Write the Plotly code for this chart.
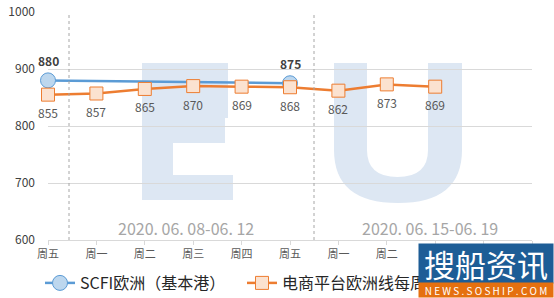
import plotly.graph_objects as go

# ---------------- data ----------------
days = ["周五", "周一", "周二", "周三", "周四", "周五", "周一", "周二", "周三", "周四", "周五"]
scfi_eu = [880, None, None, None, None, 875, None, None, None, None, None]
ecom_eu = [855, 857, 865, 870, 869, 868, 862, 873, 869, None, None]
scfi_name = "SCFI欧洲（基本港）"
ecom_name = "电商平台欧洲线每周运价"
week_labels = ["2020. 06. 08-06. 12", "2020. 06. 15-06. 19"]

# ---------------- layout geometry (pixels) ----------------
W, H = 554, 298
L, R, T, B = 48, 532, 12, 240
YMIN, YMAX = 600, 1000
NX = len(days) - 1
FONT = "Noto Sans CJK SC"


def px2x(px):
    return (px - L) / (R - L) * NX


def py2y(py):
    return YMIN + (B - py) / (B - T) * (YMAX - YMIN)


def ppx(px):
    return (px - L) / (R - L)


def ppy(py):
    return (B - py) / (B - T)


xs = list(range(len(days)))

fig = go.Figure()

fig.add_trace(go.Scatter(
    x=xs, y=scfi_eu, name=scfi_name, mode="lines+markers",
    connectgaps=True,
    line=dict(color="#5b9bd5", width=2.5),
    marker=dict(symbol="circle", size=15, color="#bdd7ee",
                line=dict(color="#5b9bd5", width=1)),
    cliponaxis=False,
))

fig.add_trace(go.Scatter(
    x=xs, y=ecom_eu, name=ecom_name, mode="lines+markers",
    line=dict(color="#ed7d31", width=2.5),
    marker=dict(symbol="square", size=13, color="#fbe2d0",
                line=dict(color="#ed7d31", width=1)),
    cliponaxis=False,
))

annotations = []
# data labels
for x, v in zip(xs, scfi_eu):
    if v is not None:
        annotations.append(dict(xref="x", yref="y", x=x, y=v, text=f"<b>{v}</b>",
                                showarrow=False, yshift=20,
                                font=dict(family=FONT, size=12, color="#404040")))
for x, v in zip(xs, ecom_eu):
    if v is not None:
        annotations.append(dict(xref="x", yref="y", x=x, y=v, text=str(v),
                                showarrow=False, yshift=-18,
                                font=dict(family=FONT, size=12, color="#595959")))

WM = "#dde7f3"
shapes = []
# watermark "E"
for (x0, y0, x1, y1) in [(142, 63, 173, 200), (173, 63, 228, 118),
                         (173, 118, 225, 143), (173, 175, 233, 200)]:
    shapes.append(dict(type="rect", xref="x", yref="y", layer="below",
                       x0=px2x(x0), x1=px2x(x1), y0=py2y(y0), y1=py2y(y1),
                       fillcolor=WM, line=dict(width=0)))


# watermark "U"
def P(px, py):
    return f"{px2x(px):.4f},{py2y(py):.3f}"


u_path = ("M " + P(334, 63) + " L " + P(367, 63) + " L " + P(367, 150) +
          " Q " + P(367, 177) + " " + P(397.5, 177) +
          " Q " + P(428, 177) + " " + P(428, 150) +
          " L " + P(428, 63) + " L " + P(462, 63) + " L " + P(462, 150) +
          " Q " + P(462, 203) + " " + P(398, 203) +
          " Q " + P(334, 203) + " " + P(334, 150) + " Z")
shapes.append(dict(type="path", xref="x", yref="y", layer="below", path=u_path,
                   fillcolor=WM, line=dict(width=0)))

# week separators
for sx in [69, 314]:
    shapes.append(dict(type="line", xref="x", yref="y",
                       x0=px2x(sx), x1=px2x(sx), y0=YMIN, y1=YMAX,
                       line=dict(color="#a6a6a6", width=1, dash="dot")))

for lab, cx in zip(week_labels, [186, 430]):
    annotations.append(dict(xref="x", yref="y", x=px2x(cx), y=py2y(228),
                            text=lab, showarrow=False,
                            font=dict(family=FONT, size=16, color="#a6a6a6")))

# site logo (bottom right)
annotations.append(dict(xref="paper", yref="paper", x=ppx(486), y=ppy(263.5),
                        xanchor="center", yanchor="middle", showarrow=False,
                        text="搜船资讯", width=134, height=39, bgcolor="#1d5d96",
                        borderpad=0,
                        font=dict(family=FONT, size=31, color="white")))
annotations.append(dict(xref="paper", yref="paper", x=ppx(486), y=ppy(290),
                        xanchor="center", yanchor="middle", showarrow=False,
                        text="N E W S . S O S H I P . C O M", width=134, height=14,
                        bgcolor="#e5700f", borderpad=0,
                        font=dict(family=FONT, size=10, color="white")))

fig.update_layout(
    width=W, height=H,
    margin=dict(l=L, r=W - R, t=T, b=H - B, autoexpand=False),
    paper_bgcolor="white", plot_bgcolor="white",
    font=dict(family=FONT),
    showlegend=True,
    legend=dict(orientation="h", x=ppx(40), y=ppy(283), xanchor="left",
                yanchor="middle", itemwidth=30,
                entrywidth=157, entrywidthmode="pixels",
                font=dict(family=FONT, size=16, color="#262626"),
                bgcolor="rgba(0,0,0,0)"),
    xaxis=dict(range=[0, NX], tickmode="array", tickvals=xs, ticktext=days,
               showgrid=False, zeroline=False, showline=True,
               linecolor="#d9d9d9", linewidth=1, ticks="outside",
               tickcolor="#d9d9d9", ticklen=4,
               tickfont=dict(family=FONT, size=11, color="#595959")),
    yaxis=dict(range=[YMIN, YMAX], dtick=100, showgrid=True,
               gridcolor="#d9d9d9", gridwidth=1, zeroline=False,
               showline=False, ticks="", ticklabelstandoff=12,
               tickfont=dict(family=FONT, size=12, color="#404040")),
    shapes=shapes,
    annotations=annotations,
)

fig.write_html("out.html")
